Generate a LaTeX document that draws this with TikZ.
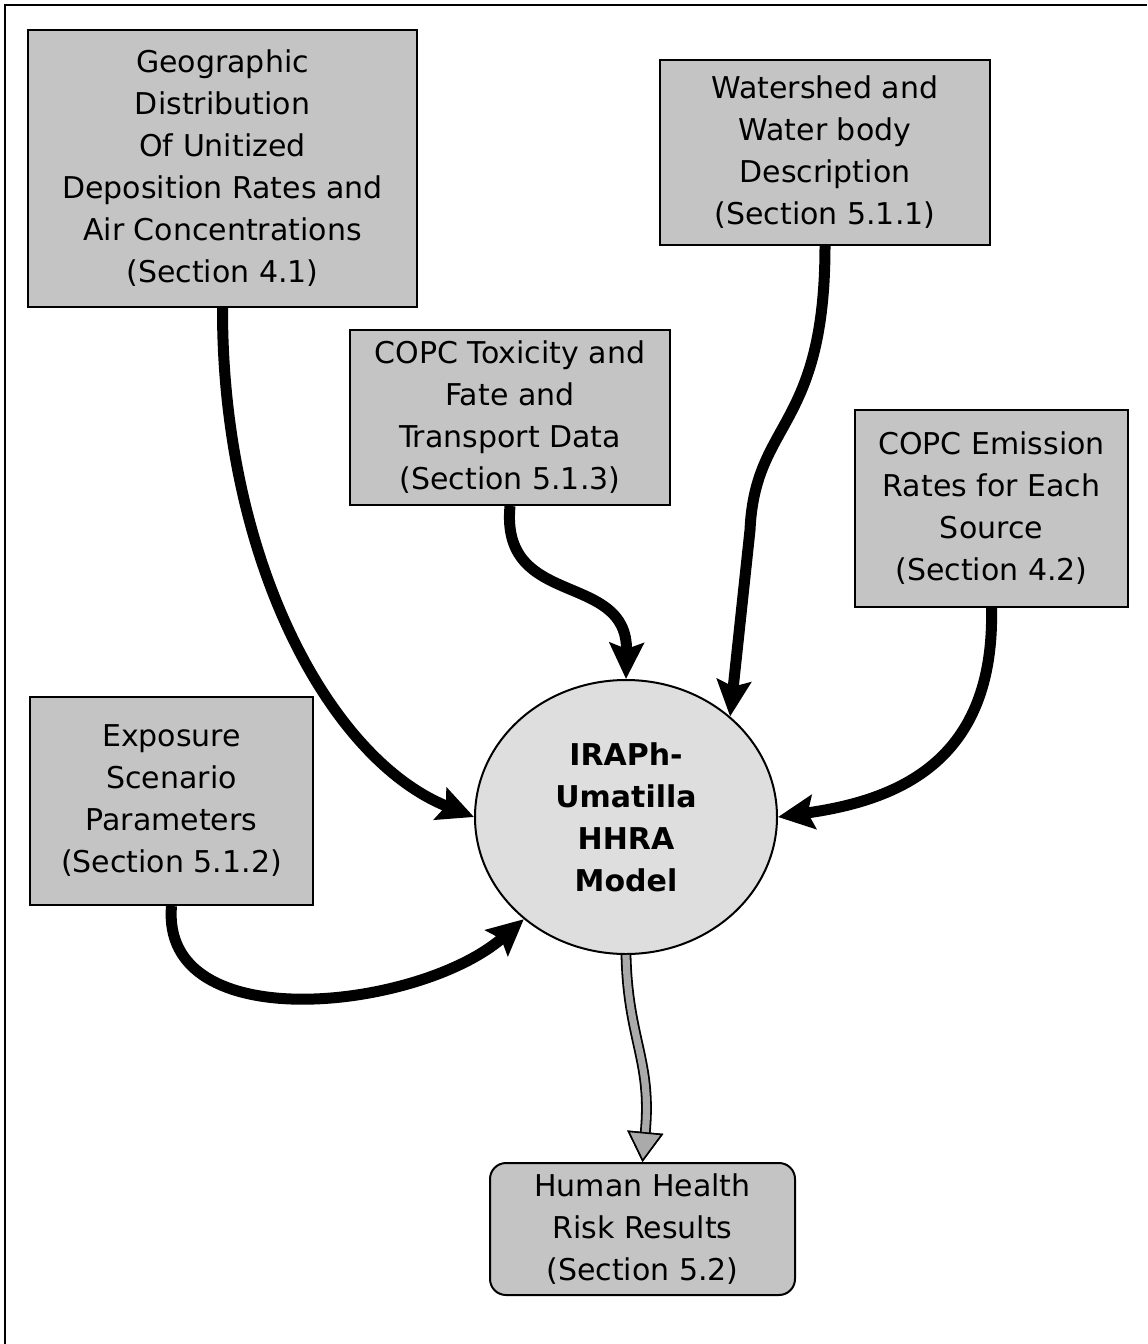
\documentclass[tikz,border=0pt]{standalone}
\usepackage{fontspec}
\setmainfont{DejaVu Sans}
\usetikzlibrary{arrows.meta,shapes.geometric}
\definecolor{boxgray}{RGB}{196,196,196}
\definecolor{circgray}{RGB}{222,222,222}
\definecolor{arrgray}{RGB}{170,170,170}
\begin{document}
\begin{tikzpicture}[x=0.5pt,y=-0.5pt,
  box/.style={draw=black,line width=1pt,fill=boxgray,inner sep=0pt,align=center,
    font=\fontsize{15}{21}\selectfont},
  flow/.style={line width=5.5pt,-{Stealth[length=18pt,width=17pt,inset=3pt]}},
  grayflow/.style={line width=3.6pt,draw=arrgray,preaction={draw=black,line width=5.4pt},
    -{Triangle[length=15pt,width=18pt,fill=arrgray,color=black,line width=0.8pt]}}
]
\useasboundingbox (0,0) rectangle (1147,1344);
\draw[line width=1pt] (5,1344) -- (5,5) -- (1147,5);

\node[box,minimum width=194.5pt,minimum height=138.5pt] (b1) at (222.5,168.5)
  {Geographic\\Distribution\\Of Unitized\\Deposition Rates and\\Air Concentrations\\(Section 4.1)};
\node[box,minimum width=165pt,minimum height=92.5pt] (b2) at (825,152.5)
  {Watershed and\\Water body\\Description\\(Section 5.1.1)};
\node[box,minimum width=160pt,minimum height=87.5pt] (b3) at (510,417.5)
  {COPC Toxicity and\\Fate and\\Transport Data\\(Section 5.1.3)};
\node[box,minimum width=136.5pt,minimum height=98.5pt] (b4) at (991.5,508.5)
  {COPC Emission\\Rates for Each\\Source\\(Section 4.2)};
\node[box,minimum width=141.5pt,minimum height=104pt] (b5) at (171.5,801)
  {Exposure\\Scenario\\Parameters\\(Section 5.1.2)};
\node[ellipse,draw=black,line width=1pt,fill=circgray,minimum width=151pt,minimum height=137pt,
  inner sep=0pt,align=center,font=\bfseries\fontsize{15}{21}\selectfont] (circ) at (626,817)
  {IRAPh-\\Umatilla\\HHRA\\Model};
\node[box,rounded corners=8pt,minimum width=152.5pt,minimum height=66pt] (b6) at (642.5,1229)
  {Human Health\\Risk Results\\(Section 5.2)};

\draw[flow] (b1.south) .. controls (222,560) and (330,760) .. (circ.west);
\draw[flow] (b3.south) .. controls (500,610) and (628,570) .. (circ.north);
\draw[flow] (b2.south) .. controls (825,430) and (755,420) .. (750,530) -- (circ.44);
\draw[flow] (b4.south) .. controls (995,760) and (900,800) .. (circ.east);
\draw[flow] (b5.south) .. controls (160,1040) and (420,1010) .. (circ.225);
\draw[grayflow] (circ.south) .. controls (628,1040) and (652,1060) .. (b6.north);
\end{tikzpicture}
\end{document}
